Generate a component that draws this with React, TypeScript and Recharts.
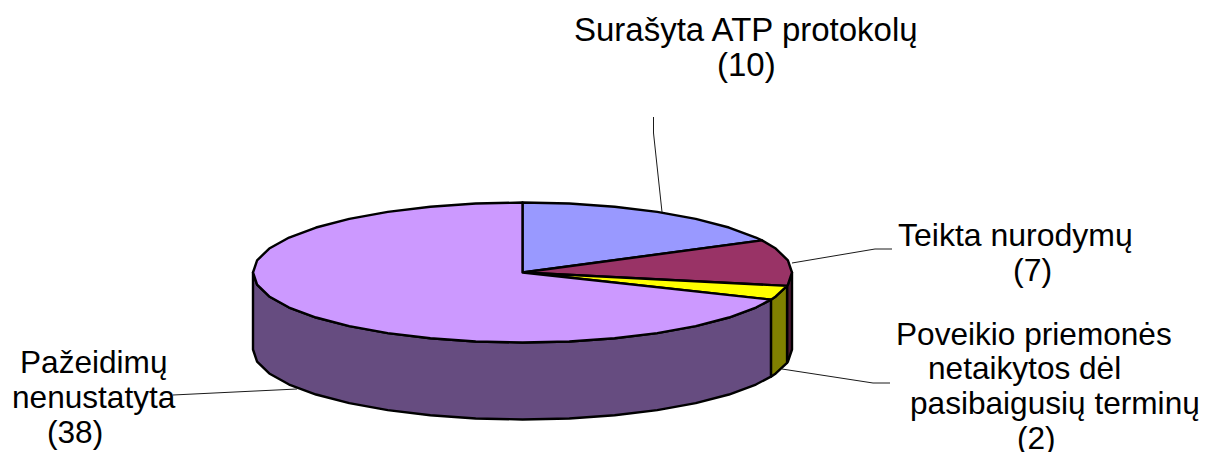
import React from "react";
import { PieChart, Pie, Cell } from "recharts";

const categories = [
  "Surašyta ATP protokolų",
  "Teikta nurodymų",
  "Poveikio priemonės netaikytos dėl pasibaigusių terminų",
  "Pažeidimų nenustatyta",
];
const values = [10, 7, 2, 38];
const colors = ["#9999FF", "#993366", "#FFFF00", "#CC99FF"];
const wallColors = ["#4C4C80", "#4C1A33", "#808000", "#664C80"];

const data = categories.map((name, i) => ({ name, value: values[i] }));

// Layout only: text lines with their left edge and baseline
const labelLayout = [
  [
    { text: "Surašyta ATP protokolų", x: 574, y: 41 },
    { text: "(10)", x: 717, y: 76 },
  ],
  [
    { text: "Teikta nurodymų", x: 898, y: 246 },
    { text: "(7)", x: 1013, y: 281 },
  ],
  [
    { text: "Poveikio priemonės", x: 896, y: 345 },
    { text: "netaikytos dėl", x: 928, y: 379 },
    { text: "pasibaigusių terminų", x: 910, y: 414 },
    { text: "(2)", x: 1017, y: 449 },
  ],
  [
    { text: "Pažeidimų", x: 20, y: 373 },
    { text: "nenustatyta", x: 12, y: 408 },
    { text: "(38)", x: 47, y: 443 },
  ],
];
const labelFontSizes = [33, 32, 31.6, 31.6];
const leaderLines = [
  "653.5,117 653.5,133 662,212",
  "792,263 875,249 892,249",
  "782,369 873,383 890,383",
  "173,395 297,389",
];

const CX = 522.5;
const CY = 272.5;
const RX = 269.5;
const RY_RATIO = 70 / 269.5;
const DEPTH = 77;
const STEP = 10;

// The tilted 3-D view foreshortens angles: true clock angle -> drawn ellipse angle
const warpIn = [0, 63.16, 107.37, 120, 360];
const warpOut = [0, 62.7, 101, 112.8, 360];
function warp(t: number) {
  for (let i = 1; i < warpIn.length; i++) {
    if (t <= warpIn[i] + 1e-6) {
      const f = (t - warpIn[i - 1]) / (warpIn[i] - warpIn[i - 1]);
      return warpOut[i - 1] + f * (warpOut[i] - warpOut[i - 1]);
    }
  }
  return t;
}

function arcPoints(cx: number, cy: number, rx: number, ry: number, t0: number, t1: number) {
  const ts = [t0];
  let k = Math.floor(t0 / STEP) + 1;
  while (k * STEP < t1 - 0.01) {
    ts.push(k * STEP);
    k++;
  }
  ts.push(t1);
  return ts.map((t) => {
    const r = (t * Math.PI) / 180;
    return [cx + rx * Math.sin(r), cy - ry * Math.cos(r)];
  });
}
const toPath = (pts: number[][]) =>
  pts.map((p, i) => `${i ? "L" : "M"}${p[0].toFixed(2)},${p[1].toFixed(2)}`).join("");

function Slice3D(props: any) {
  const { cx, cy, outerRadius, startAngle, endAngle, fill, index } = props;
  const rx = outerRadius;
  const ry = rx * RY_RATIO;
  const t0 = warp(90 - startAngle);
  const t1 = warp(90 - endAngle);
  const top = arcPoints(cx, cy, rx, ry, t0, t1);
  const w0 = Math.max(t0, 90);
  const w1 = Math.min(t1, 270);
  let wall = null;
  if (w1 > w0) {
    const upper = arcPoints(cx, cy, rx, ry, w0, w1);
    const lower = upper.map((p) => [p[0], p[1] + DEPTH]).reverse();
    wall = (
      <path
        d={toPath([...upper, ...lower]) + "Z"}
        fill={wallColors[index]}
        stroke="#000"
        strokeWidth={2.4}
        strokeLinejoin="round"
      />
    );
  }
  return (
    <g>
      {wall}
      <path
        d={`M${cx},${cy}` + toPath(top).replace("M", "L") + "Z"}
        fill={fill}
        stroke="#000"
        strokeWidth={2.4}
        strokeLinejoin="round"
      />
    </g>
  );
}

function renderLabel(props: any) {
  const i = props.index;
  return (
    <g key={i}>
      <polyline points={leaderLines[i]} fill="none" stroke="#1a1a1a" strokeWidth={1} />
      <text fontFamily="Liberation Sans, Arial, sans-serif" fontSize={labelFontSizes[i]} fill="#000">
        {labelLayout[i].map((l) => (
          <tspan key={l.text} x={l.x} y={l.y}>
            {l.text}
          </tspan>
        ))}
      </text>
    </g>
  );
}

export default function App() {
  return (
    <div style={{ position: "absolute", left: 0, top: 0, width: 1207, height: 452, background: "#fff" }}>
      <PieChart width={1207} height={452} margin={{ top: 0, right: 0, bottom: 0, left: 0 }}>
        <Pie
          data={data}
          dataKey="value"
          nameKey="name"
          cx={CX}
          cy={CY}
          innerRadius={0}
          outerRadius={RX}
          startAngle={90}
          endAngle={-270}
          paddingAngle={0}
          isAnimationActive={false}
          shape={Slice3D}
          inactiveShape={Slice3D}
          label={renderLabel}
          labelLine={false}
          stroke="#000"
        >
          {data.map((d, i) => (
            <Cell key={d.name} fill={colors[i]} />
          ))}
        </Pie>
      </PieChart>
    </div>
  );
}
